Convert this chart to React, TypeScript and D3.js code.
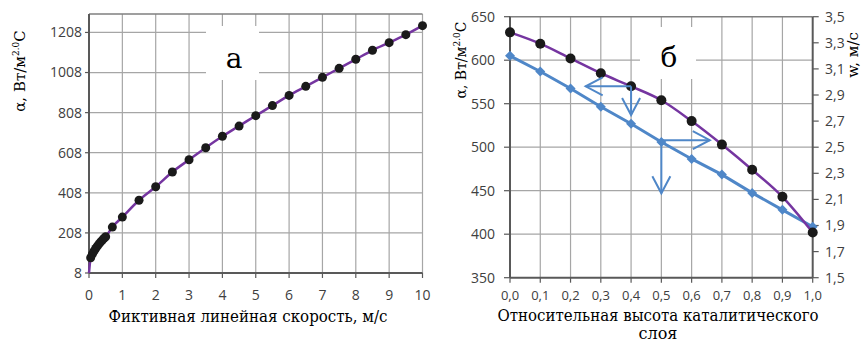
import * as d3 from 'd3';
import React from 'react';

// --- chart "а": heat transfer vs superficial velocity
const speed = [0, 0.05, 0.1, 0.15, 0.2, 0.25, 0.3, 0.35, 0.4, 0.45, 0.5, 0.7, 1, 1.5, 2, 2.5, 3, 3.5, 4, 4.5, 5, 5.5, 6, 6.5, 7, 7.5, 8, 8.5, 9, 9.5, 10];
const alphaA = [8, 84, 102, 117, 130, 142, 153, 163, 172, 181, 189, 237, 287, 371, 438, 512, 573, 633, 690, 741, 793, 843, 894, 939, 984, 1029, 1074, 1119, 1157, 1197, 1242];
const xTicksA = [0, 1, 2, 3, 4, 5, 6, 7, 8, 9, 10];
const yTicksA = [8, 208, 408, 608, 808, 1008, 1208];

// --- chart "б": along relative bed height
const bedHeight = [0, 0.1, 0.2, 0.3, 0.4, 0.5, 0.6, 0.7, 0.8, 0.9, 1.0];
const alphaB = [632, 619, 602, 585, 570, 554, 530, 503, 474, 443, 402];
const velocityB = [3.2, 3.08, 2.95, 2.81, 2.68, 2.54, 2.41, 2.29, 2.15, 2.02, 1.89];
const yTicksB = [350, 400, 450, 500, 550, 600, 650];
const wTicksB = [1.5, 1.7, 1.9, 2.1, 2.3, 2.5, 2.7, 2.9, 3.1, 3.3, 3.5];

// annotation arrows (x in bed height, y in α units)
const arrowsB = [
  { x1: 0.4, y1: 570, x2: 0.25, y2: 570 },
  { x1: 0.4, y1: 570, x2: 0.4, y2: 537 },
  { x1: 0.5, y1: 508, x2: 0.66, y2: 508 },
  { x1: 0.5, y1: 508, x2: 0.5, y2: 447 },
];

const purple = '#7535a0';
const blue = '#4f87c8';
const grid = '#a6a6a6';
const axisCol = '#595959';
const tickFont = 'Open Sans, sans-serif';
const serif = '"DejaVu Serif", serif';

const comma = (v: number, d: number) => v.toFixed(d).replace('.', ',');

const App = () => {
  const xA = d3.scaleLinear().domain([0, 10]).range([89, 422.5]);
  const yA = d3.scaleLinear().domain([8, 1300]).range([273, 14]);
  const xB = d3.scaleLinear().domain([0, 1]).range([510, 812.7]);
  const yB = d3.scaleLinear().domain([350, 650]).range([277.7, 16.7]);
  const yW = d3.scaleLinear().domain([1.5, 3.5]).range([277.7, 16.7]);

  const lineA = d3.line<number>()
    .x((_, i) => xA(speed[i]))
    .y((d) => yA(d))
    .curve(d3.curveMonotoneX);
  const lineB = d3.line<number>()
    .x((_, i) => xB(bedHeight[i]))
    .y((d) => yB(d))
    .curve(d3.curveMonotoneX);
  const lineW = d3.line<number>()
    .x((_, i) => xB(bedHeight[i]))
    .y((d) => yW(d));

  // open arrow head: two wings at the tip
  const head = (a: typeof arrowsB[0]) => {
    const px1 = xB(a.x1), py1 = yB(a.y1), px2 = xB(a.x2), py2 = yB(a.y2);
    const dx = px2 - px1, dy = py2 - py1;
    const len = Math.hypot(dx, dy);
    const ux = dx / len, uy = dy / len;
    const bx = px2 - ux * 17, by = py2 - uy * 17;
    return `M${bx - uy * 9},${by + ux * 9}L${px2},${py2}L${bx + uy * 9},${by - ux * 9}`;
  };

  return (
    <svg width={863} height={343} style={{ position: 'absolute', left: 0, top: 0, background: '#fff' }}>
      {/* ===== chart а ===== */}
      <g>
        {xTicksA.slice(1).map((t) => (
          <line key={'gv' + t} x1={xA(t)} x2={xA(t)} y1={yA(8)} y2={yA(1300)} stroke={grid} strokeWidth={1.2} />
        ))}
        {yTicksA.slice(1).map((t) => (
          <line key={'gh' + t} x1={xA(0)} x2={xA(10)} y1={yA(t)} y2={yA(t)} stroke={grid} strokeWidth={1.2} />
        ))}
        <line x1={xA(0)} x2={xA(10)} y1={yA(1300)} y2={yA(1300)} stroke="#7f7f7f" strokeWidth={1.5} />
        <rect x={206} y={26} width={53} height={54} fill="#fff" />
        <text x={234} y={68} style={{ fontFamily: serif }} fontSize={28} textAnchor="middle">а</text>

        <line x1={xA(0)} x2={xA(0)} y1={yA(1300)} y2={yA(8)} stroke={axisCol} strokeWidth={2} />
        <line x1={xA(0)} x2={xA(10)} y1={yA(8)} y2={yA(8)} stroke={axisCol} strokeWidth={2} />
        {yTicksA.map((t) => (
          <g key={'ya' + t}>
            <line x1={xA(0) - 4} x2={xA(0)} y1={yA(t)} y2={yA(t)} stroke={axisCol} strokeWidth={1.2} />
            <text x={xA(0) - 7} y={yA(t)} dy="0.35em" textAnchor="end" style={{ fontFamily: tickFont }} fontSize={14} fill="#404040">{t}</text>
          </g>
        ))}
        {xTicksA.map((t) => (
          <g key={'xa' + t}>
            <line x1={xA(t)} x2={xA(t)} y1={yA(8)} y2={yA(8) + 5} stroke={axisCol} strokeWidth={1.2} />
            <text x={xA(t)} y={300} textAnchor="middle" style={{ fontFamily: tickFont }} fontSize={14} fill="#404040">{t}</text>
          </g>
        ))}

        <path d={lineA(alphaA) || ''} fill="none" stroke={purple} strokeWidth={2.5} />
        {alphaA.slice(1).map((v, i) => (
          <circle key={'pa' + i} cx={xA(speed[i + 1])} cy={yA(v)} r={4.5} fill="#1a1a1a" />
        ))}

        <text x={248} y={322} textAnchor="middle" style={{ fontFamily: serif }} fontSize={16} textLength={279} lengthAdjust="spacingAndGlyphs">Фиктивная линейная скорость, м/с</text>
        <text transform="translate(25,71) rotate(-90)" textAnchor="middle" style={{ fontFamily: serif }} fontSize={15}>
          <tspan>α, Вт/м</tspan>
          <tspan fontSize={9} dy={-6}>2.0</tspan>
          <tspan dy={6}>С</tspan>
        </text>
      </g>

      {/* ===== chart б ===== */}
      <g>
        {bedHeight.slice(1, -1).map((t) => (
          <line key={'bv' + t} x1={xB(t)} x2={xB(t)} y1={yB(350)} y2={yB(650)} stroke={grid} strokeWidth={1.2} />
        ))}
        {yTicksB.slice(1, -1).map((t) => (
          <line key={'bh' + t} x1={xB(0)} x2={xB(1)} y1={yB(t)} y2={yB(t)} stroke={grid} strokeWidth={1.2} />
        ))}
        <line x1={xB(0)} x2={xB(1)} y1={yB(650)} y2={yB(650)} stroke="#7f7f7f" strokeWidth={1.5} />
        <rect x={640} y={27} width={56} height={52} fill="#fff" />
        <text x={669} y={67} style={{ fontFamily: serif }} fontSize={28} textAnchor="middle">б</text>

        <line x1={xB(0)} x2={xB(0)} y1={yB(650)} y2={yB(350)} stroke={axisCol} strokeWidth={2} />
        <line x1={xB(1)} x2={xB(1)} y1={yB(650)} y2={yB(350)} stroke={axisCol} strokeWidth={2} />
        <line x1={xB(0)} x2={xB(1)} y1={yB(350)} y2={yB(350)} stroke={axisCol} strokeWidth={2} />
        {yTicksB.map((t) => (
          <g key={'yb' + t}>
            <line x1={xB(0) - 6} x2={xB(0)} y1={yB(t)} y2={yB(t)} stroke={axisCol} strokeWidth={1.2} />
            <text x={495} y={yB(t)} dy="0.35em" textAnchor="end" style={{ fontFamily: tickFont }} fontSize={14} fill="#404040">{t}</text>
          </g>
        ))}
        {wTicksB.map((t) => (
          <g key={'wb' + t}>
            <line x1={xB(1)} x2={xB(1) + 6} y1={yW(t)} y2={yW(t)} stroke={axisCol} strokeWidth={1.2} />
            <text x={825} y={yW(t)} dy="0.35em" textAnchor="start" style={{ fontFamily: tickFont }} fontSize={14} fill="#404040">{comma(t, 1)}</text>
          </g>
        ))}
        {bedHeight.map((t) => (
          <g key={'xb' + t}>
            <line x1={xB(t)} x2={xB(t)} y1={yB(350)} y2={yB(350) + 5} stroke={axisCol} strokeWidth={1.2} />
            <text x={xB(t)} y={300} textAnchor="middle" style={{ fontFamily: tickFont }} fontSize={13} fill="#404040">{comma(t, 1)}</text>
          </g>
        ))}

        <path d={lineW(velocityB) || ''} fill="none" stroke={blue} strokeWidth={3} />
        {velocityB.map((v, i) => {
          const cx = xB(bedHeight[i]), cy = yW(v);
          return <path key={'wd' + i} d={`M${cx},${cy - 5}L${cx + 5},${cy}L${cx},${cy + 5}L${cx - 5},${cy}Z`} fill={blue} />;
        })}
        <path d={lineB(alphaB) || ''} fill="none" stroke={purple} strokeWidth={2.5} />
        {alphaB.map((v, i) => (
          <circle key={'ab' + i} cx={xB(bedHeight[i])} cy={yB(v)} r={5} fill="#1a1a1a" />
        ))}

        {arrowsB.map((a, i) => (
          <g key={'ar' + i} stroke={blue} strokeWidth={2} fill="none">
            <line x1={xB(a.x1)} y1={yB(a.y1)} x2={xB(a.x2)} y2={yB(a.y2)} />
            <path d={head(a)} />
          </g>
        ))}

        <text x={658} y={321} textAnchor="middle" style={{ fontFamily: serif }} fontSize={16} textLength={321} lengthAdjust="spacingAndGlyphs">Относительная высота каталитического</text>
        <text x={658} y={339} textAnchor="middle" style={{ fontFamily: serif }} fontSize={16}>слоя</text>
        <text transform="translate(466,60) rotate(-90)" textAnchor="middle" style={{ fontFamily: serif }} fontSize={14}>
          <tspan>α, Вт/м</tspan>
          <tspan fontSize={9} dy={-6}>2.0</tspan>
          <tspan dy={6}>С</tspan>
        </text>
        <text transform="translate(858,55) rotate(-90)" textAnchor="middle" style={{ fontFamily: serif }} fontSize={15}>w, м/с</text>
      </g>
    </svg>
  );
};

export default App;
